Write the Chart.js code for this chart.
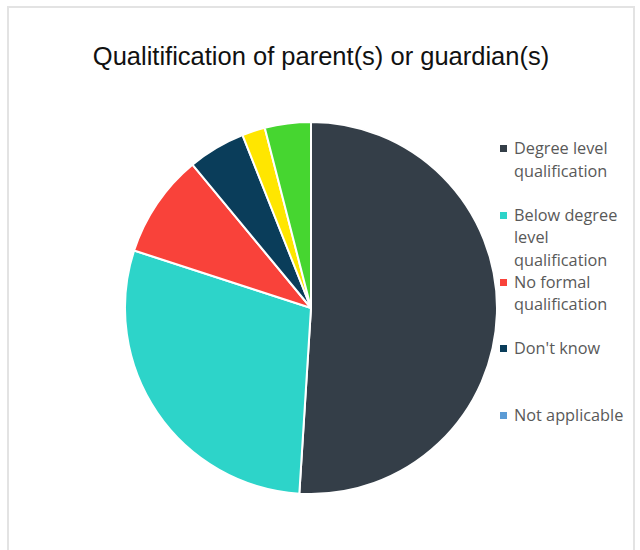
<!DOCTYPE html>
<html>
<head>
<meta charset="utf-8">
<script src="https://cdn.jsdelivr.net/npm/chart.js"></script>
<style>
  body { margin: 0; background: #fff; width: 640px; height: 550px; overflow: hidden; position: relative; }
  #frame { position: absolute; left: 7px; top: 6px; width: 628px; height: 600px; border: 2px solid #e3e3e3; box-sizing: border-box; }
  #title { position: absolute; left: 0; width: 642px; top: 42px; text-align: center;
           font-family: "Liberation Sans", Arial, sans-serif; font-size: 25.5px; color: #111; }
  #pieBox { position: absolute; left: 124px; top: 121px; width: 374px; height: 374px; }
  #legend { position: absolute; left: 500px; top: 137px; font-family: "Open Sans", sans-serif;
            font-size: 16.3px; line-height: 22.5px; color: #595959; }
  .item { position: absolute; left: 0; width: 140px; }
  .box { position: absolute; left: 0; top: 8px; width: 7px; height: 7px; }
  .txt { margin-left: 14px; white-space: nowrap; }
</style>
</head>
<body>
<div id="frame"></div>
<div id="title">Qualitification of parent(s) or guardian(s)</div>
<div id="pieBox"><canvas id="pie"></canvas></div>
<div id="legend"></div>
<script>
const categories = [
  'Degree level qualification',
  'Below degree level qualification',
  'No formal qualification',
  "Don't know",
  'Not applicable',
  'Prefer not to say',
  'Other'
];
const legendLines = [
  ['Degree level', 'qualification'],
  ['Below degree', 'level', 'qualification'],
  ['No formal', 'qualification'],
  ["Don't know"],
  ['Not applicable']
];
const shares = [51, 29, 9, 5, 0, 2, 4];
const colors = ['#343e48', '#2dd4c9', '#f9423a', '#0a3d5a', '#5b9bd5', '#ffe600', '#46d630'];

new Chart(document.getElementById('pie'), {
  type: 'pie',
  data: {
    labels: categories,
    datasets: [{
      data: shares,
      backgroundColor: colors,
      borderColor: '#ffffff',
      borderWidth: 2
    }]
  },
  options: {
    responsive: true,
    maintainAspectRatio: false,
    animation: false,
    layout: { padding: 0 },
    plugins: {
      legend: { display: false },
      tooltip: { enabled: false }
    }
  }
});

// Excel-style legend on the right, only the first five entries fit
const legendDiv = document.getElementById('legend');
legendLines.forEach((lines, i) => {
  const item = document.createElement('div');
  item.className = 'item';
  item.style.top = (i * 66.8) + 'px';
  const box = document.createElement('div');
  box.className = 'box';
  box.style.background = colors[i];
  const txt = document.createElement('div');
  txt.className = 'txt';
  txt.innerHTML = lines.join('<br>');
  item.appendChild(box);
  item.appendChild(txt);
  legendDiv.appendChild(item);
});
</script>
</body>
</html>
